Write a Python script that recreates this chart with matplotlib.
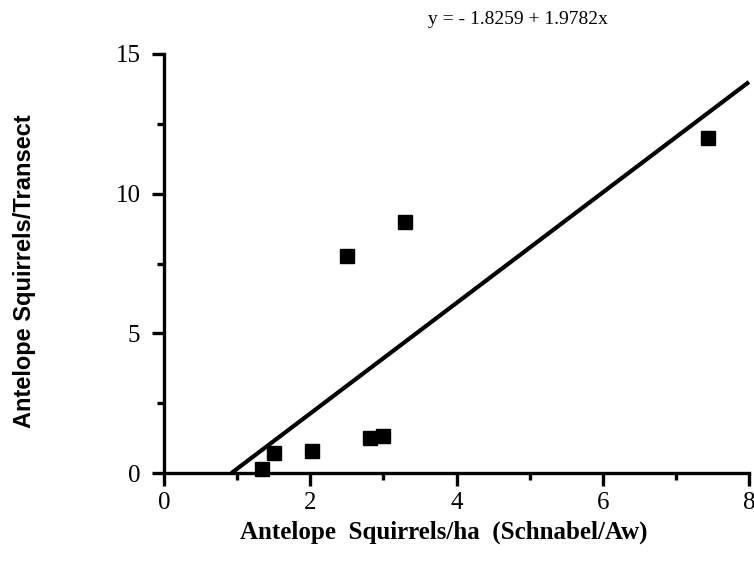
import matplotlib
matplotlib.use("Agg")
import matplotlib.pyplot as plt
import numpy as np
from matplotlib.ticker import MultipleLocator

# squirrels per ha (Schnabel/Aw) vs squirrels per transect
density_ha = [1.34, 1.50, 2.02, 2.50, 2.82, 3.00, 3.30, 7.44]
per_transect = [0.13, 0.70, 0.79, 7.77, 1.26, 1.34, 8.98, 11.98]

intercept = -1.8259
slope = 1.9782

serif = ["Liberation Serif", "DejaVu Serif"]
sans = ["Liberation Sans", "DejaVu Sans"]

fig = plt.figure(figsize=(7.54, 5.64), dpi=100)
ax = fig.add_axes([164 / 754, 1 - 473 / 564, (749 - 164) / 754, (473 - 54) / 564])

x_fit = np.array([-intercept / slope, 8.0])
ax.plot(x_fit, intercept + slope * x_fit, color="black", linewidth=3.0,
        solid_capstyle="butt", clip_on=False)
ax.plot(density_ha, per_transect, linestyle="none", marker="s",
        markersize=10.5, color="black", clip_on=False)

ax.set_xlim(0, 8)
ax.set_ylim(0, 15)
for side in ("top", "right"):
    ax.spines[side].set_visible(False)
for side in ("left", "bottom"):
    ax.spines[side].set_linewidth(2.4)

ax.xaxis.set_major_locator(MultipleLocator(2))
ax.xaxis.set_minor_locator(MultipleLocator(1))
ax.yaxis.set_major_locator(MultipleLocator(5))
ax.yaxis.set_minor_locator(MultipleLocator(2.5))
ax.tick_params(axis="x", which="major", direction="out", length=9, width=2.4, pad=5)
ax.tick_params(axis="x", which="minor", direction="out", length=5, width=2.4)
ax.tick_params(axis="y", which="major", direction="out", length=9, width=2.4, pad=8)
ax.tick_params(axis="y", which="minor", direction="out", length=5, width=2.4)
for lab in ax.get_xticklabels() + ax.get_yticklabels():
    lab.set_family(serif)
    lab.set_fontsize(18)

fig.text(444 / 754, 1 - 532 / 564, "Antelope  Squirrels/ha  (Schnabel/Aw)",
         family=serif, fontsize=18, fontweight="bold", ha="center", va="center")
fig.text(25 / 754, 1 - 271 / 564, "Antelope Squirrels/Transect", family=sans,
         fontsize=17, fontweight="bold", rotation=90, ha="center", va="center")
fig.text(518 / 754, 1 - 20 / 564, "y = - 1.8259 + 1.9782x", family=serif,
         fontsize=14, ha="center", va="center")

fig.savefig("out.png", dpi=100)
